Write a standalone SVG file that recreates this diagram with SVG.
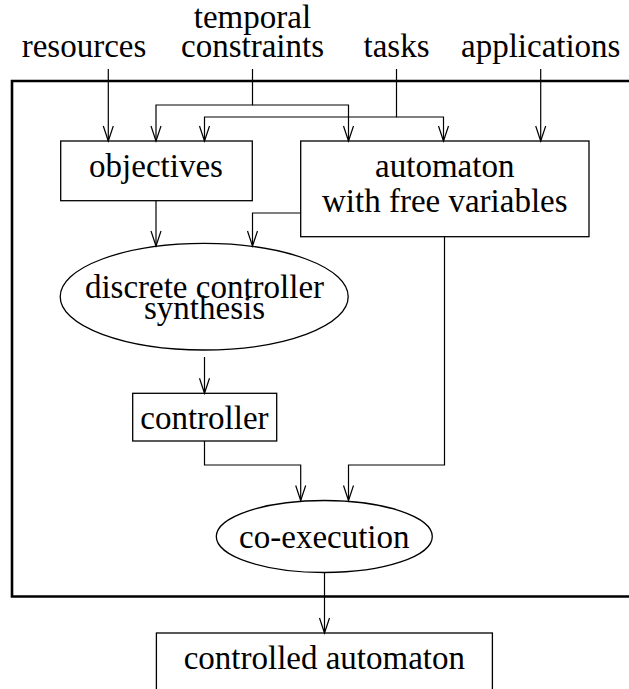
<svg xmlns="http://www.w3.org/2000/svg" width="629" height="689" viewBox="0 0 629 689">
<defs>
<marker id="arrow" markerUnits="userSpaceOnUse" markerWidth="20" markerHeight="14" viewBox="-16 -7 18 14" refX="0" refY="0" orient="auto">
<path d="M-15,-5 L0,0 L-15,5" fill="none" stroke="#000" stroke-width="1.2"/>
</marker>
</defs>
<rect width="629" height="689" fill="#fff"/>
<g id="frame"><path fill="none" stroke="#000" stroke-width="2.6" d="M640,81 H12 V596.5 H640"/></g>
<g id="input-resources"><text x="21.7" y="56.5" style="font-family:'Liberation Serif';font-size:33px">resources</text></g>
<g id="input-temporal"><text x="193.8" y="27.5" style="font-family:'Liberation Serif';font-size:33px">temporal</text><text x="181" y="56.5" style="font-family:'Liberation Serif';font-size:33px">constraints</text></g>
<g id="input-tasks"><text x="363.5" y="56.5" style="font-family:'Liberation Serif';font-size:33px">tasks</text></g>
<g id="input-applications"><text x="461" y="56.5" style="font-family:'Liberation Serif';font-size:33px">applications</text></g>
<g id="objectives"><rect x="60.7" y="141" width="191.6" height="59.7" fill="none" stroke="#000" stroke-width="1.3"/><text x="89.1" y="177" style="font-family:'Liberation Serif';font-size:33px">objectives</text></g>
<g id="automaton"><rect x="300.7" y="141" width="288.3" height="95.7" fill="none" stroke="#000" stroke-width="1.3"/><text x="375.1" y="177" style="font-family:'Liberation Serif';font-size:33px">automaton</text><text x="322" y="212" style="font-family:'Liberation Serif';font-size:33px">with free variables</text></g>
<g id="synthesis"><ellipse cx="204.2" cy="296.7" rx="144" ry="53.3" fill="none" stroke="#000" stroke-width="1.3"/><text x="84.9" y="297.5" style="font-family:'Liberation Serif';font-size:33px">discrete controller</text><text x="144" y="319" style="font-family:'Liberation Serif';font-size:33px">synthesis</text></g>
<g id="controller"><rect x="132.7" y="393.3" width="144" height="47.7" fill="none" stroke="#000" stroke-width="1.3"/><text x="140.3" y="429" style="font-family:'Liberation Serif';font-size:33px">controller</text></g>
<g id="coexecution"><ellipse cx="324.3" cy="536.5" rx="108" ry="36" fill="none" stroke="#000" stroke-width="1.3"/><text x="239.1" y="548" style="font-family:'Liberation Serif';font-size:33px">co-execution</text></g>
<g id="controlled-automaton"><rect x="156.4" y="633" width="336" height="80" fill="none" stroke="#000" stroke-width="1.3"/><text x="183.7" y="669" style="font-family:'Liberation Serif';font-size:33px">controlled automaton</text></g>
<g id="connectors" fill="none" stroke="#000" stroke-width="1.2" marker-end="url(#arrow)">
<path d="M108.3,69 V141"/>
<path d="M252.5,69 V105 H156 V141"/>
<path d="M252.5,105 H348.5 V141"/>
<path d="M396.5,69 V117 H204.5 V141"/>
<path d="M396.5,117 H443.5 V141"/>
<path d="M540.7,69 V141"/>
<path d="M156,200.7 V246"/>
<path d="M300.7,213 H252.5 V246"/>
<path d="M204.5,357 V393.3"/>
<path d="M204.5,441 V465 H300.7 V500.5"/>
<path d="M444.5,236.7 V465 H348.5 V500.5"/>
<path d="M324.5,572.5 V633"/>
</g>
</svg>
